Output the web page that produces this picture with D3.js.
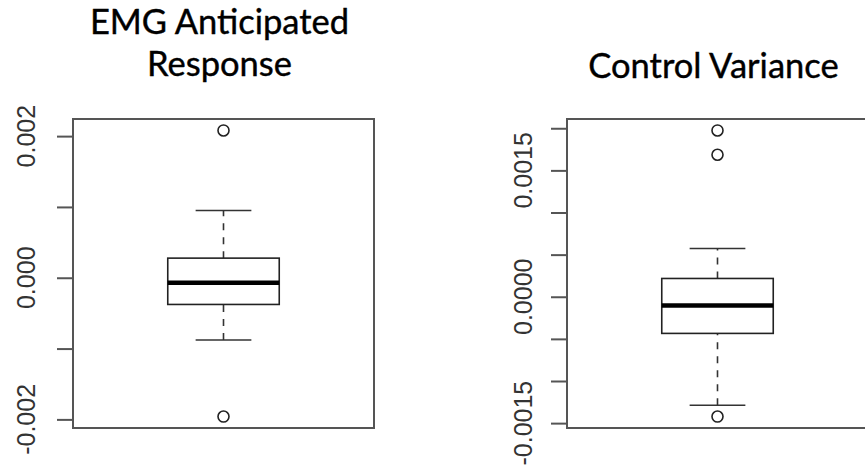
<!DOCTYPE html>
<html>
<head>
<meta charset="utf-8">
<script src="https://cdn.jsdelivr.net/npm/d3@7"></script>
<style>
  body { margin: 0; background: #fff; }
  svg { display: block; }
</style>
</head>
<body>
<script>
// box stats: lower whisker, Q1, median, Q3, upper whisker
var emgTitle = ["EMG Anticipated", "Response"];
var emgStats = [-0.00088, -0.000377, -0.00007, 0.000277, 0.00095];
var emgOutliers = [0.00208, -0.00196];
var emgTicks = [-0.002, -0.001, 0, 0.001, 0.002];
var emgLabels = [-0.002, 0, 0.002];

var ctrlTitle = ["Control Variance"];
var ctrlStats = [-0.001288, -0.000435, -0.000103, 0.000217, 0.000572];
var ctrlOutliers = [0.001974, 0.001686, -0.001422];
var ctrlTicks = [-0.0015, -0.001, -0.0005, 0, 0.0005, 0.001, 0.0015, 0.002];
var ctrlLabels = [-0.0015, 0, 0.0015];

var width = 865, height = 470;

var svg = d3.select("body").append("svg")
  .attr("width", width)
  .attr("height", height);

function drawPanel(opt) {
  var all = opt.stats.concat(opt.outliers);
  var lo = d3.min(all), hi = d3.max(all);
  var pad = (hi - lo) * 0.04;

  var y = d3.scaleLinear().domain([lo - pad, hi + pad]).range([428, 119]);
  // R style x limits around a single box at 1
  var x = d3.scaleLinear().domain([0.46, 1.54]).range([opt.left, opt.left + 301]);

  var g = svg.append("g");

  // titles
  g.selectAll("text.title")
    .data(opt.title)
    .enter().append("text")
    .attr("class", "title")
    .attr("x", x(1) - 4)
    .attr("y", function(d, i) { return opt.titleY[i]; })
    .attr("text-anchor", "middle")
    .style("font-family", "Lato, 'Open Sans', sans-serif")
    .style("font-size", "34.5px")
    .style("fill", "#000")
    .style("stroke", "#000")
    .style("stroke-width", 0.4)
    .text(function(d) { return d; });

  // y axis
  var axis = d3.axisLeft(y)
    .tickValues(opt.ticks)
    .tickSize(16)
    .tickFormat("");
  var ax = g.append("g")
    .attr("transform", "translate(" + x.range()[0] + ",0)")
    .call(axis);
  ax.select(".domain").remove();
  ax.selectAll(".tick line").attr("stroke", "#555").attr("stroke-width", 2);
  ax.append("line")
    .attr("x1", 0).attr("x2", 0)
    .attr("y1", y(opt.ticks[0])).attr("y2", y(opt.ticks[opt.ticks.length - 1]))
    .attr("stroke", "#555").attr("stroke-width", 2);

  var fmt = d3.format(opt.fmt);
  g.selectAll("text.ylab")
    .data(opt.labels)
    .enter().append("text")
    .attr("class", "ylab")
    .attr("transform", function(d) {
      return "translate(" + opt.labelX + "," + y(d) + ") rotate(-90)";
    })
    .attr("text-anchor", "middle")
    .style("font-family", "'Liberation Sans', Arial, sans-serif")
    .style("font-size", "25px")
    .style("fill", "#333")
    .text(function(d) { return fmt(d).replace("\u2212", "-"); });

  // plot frame
  g.append("rect")
    .attr("x", x.range()[0])
    .attr("y", 119)
    .attr("width", 301)
    .attr("height", 428 - 119)
    .attr("fill", "none")
    .attr("stroke", "#555")
    .attr("stroke-width", 2);

  var s = opt.stats;
  var c = x(1);

  // whiskers
  g.selectAll("line.whisker")
    .data([[s[0], s[1]], [s[3], s[4]]])
    .enter().append("line")
    .attr("class", "whisker")
    .attr("x1", c).attr("x2", c)
    .attr("y1", function(d) { return y(d[0]); })
    .attr("y2", function(d) { return y(d[1]); })
    .attr("stroke", "#333")
    .attr("stroke-width", 1.6)
    .attr("stroke-dasharray", "7,7");

  g.selectAll("line.cap")
    .data([s[0], s[4]])
    .enter().append("line")
    .attr("class", "cap")
    .attr("x1", x(0.9)).attr("x2", x(1.1))
    .attr("y1", function(d) { return y(d); })
    .attr("y2", function(d) { return y(d); })
    .attr("stroke", "#333")
    .attr("stroke-width", 1.6);

  // box
  g.append("rect")
    .attr("x", x(0.8))
    .attr("y", y(s[3]))
    .attr("width", x(1.2) - x(0.8))
    .attr("height", y(s[1]) - y(s[3]))
    .attr("fill", "#fff")
    .attr("stroke", "#222")
    .attr("stroke-width", 1.6);

  // median
  g.append("line")
    .attr("x1", x(0.8)).attr("x2", x(1.2))
    .attr("y1", y(s[2])).attr("y2", y(s[2]))
    .attr("stroke", "#000")
    .attr("stroke-width", 4.5);

  // outliers
  g.selectAll("circle.out")
    .data(opt.outliers)
    .enter().append("circle")
    .attr("class", "out")
    .attr("cx", c)
    .attr("cy", function(d) { return y(d); })
    .attr("r", 5.5)
    .attr("fill", "none")
    .attr("stroke", "#222")
    .attr("stroke-width", 1.6);
}

drawPanel({
  title: emgTitle, titleY: [34, 76],
  stats: emgStats, outliers: emgOutliers,
  ticks: emgTicks, labels: emgLabels, fmt: ".3f",
  left: 73, labelX: 35
});

drawPanel({
  title: ctrlTitle, titleY: [78],
  stats: ctrlStats, outliers: ctrlOutliers,
  ticks: ctrlTicks, labels: ctrlLabels, fmt: ".4f",
  left: 567, labelX: 532
});
</script>
</body>
</html>
